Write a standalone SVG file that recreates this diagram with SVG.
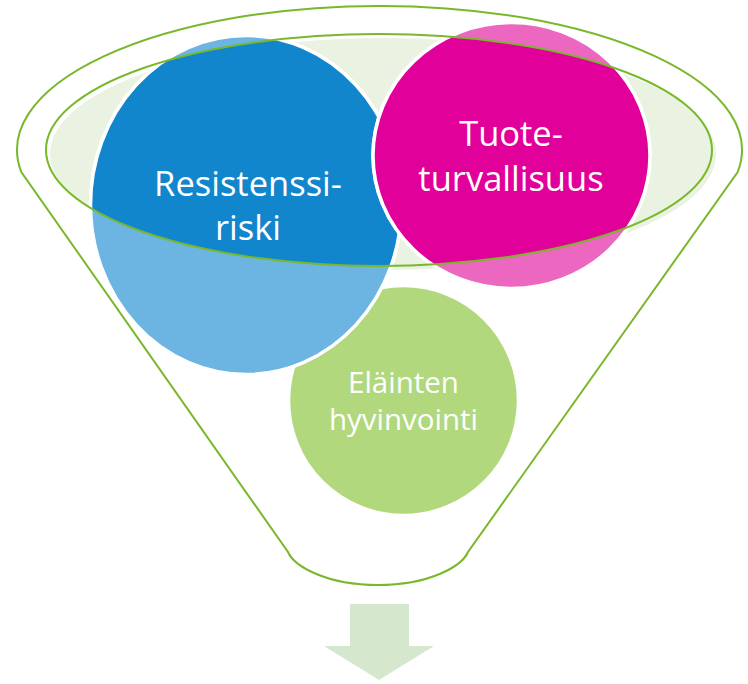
<svg xmlns="http://www.w3.org/2000/svg" width="748" height="684" viewBox="0 0 748 684">
  <defs>
    <clipPath id="rimClip">
      <ellipse cx="379" cy="150" rx="333" ry="116"/>
    </clipPath>
    <style>
      .rim { fill: none; stroke: #78B82A; stroke-width: 2; }
      .circle { stroke: #FFFFFF; stroke-width: 3.5; }
      .label { font-family: "Open Sans", "Noto Sans", "Liberation Sans", sans-serif; fill: #FFFFFF; text-anchor: middle; }
      .big { font-size: 34.5px; }
      .small { font-size: 29.5px; }
    </style>
  </defs>
  <rect x="0" y="0" width="748" height="684" fill="#FFFFFF"/>

  <g id="funnel">
    <path class="rim" d="M 21.3 172 A 362.5 144 0 1 1 737.7 172 L 468 552 C 462 566, 430 585, 378 585 C 326 585, 294 566, 288 552 Z" fill="#FFFFFF"/>
    <ellipse cx="383" cy="154" rx="333" ry="116" fill="#EAF2E2"/>
  </g>

  <g id="node-elainten">
    <circle cx="403.5" cy="400.5" r="115" fill="#B1D87D" class="circle"/>
    <text class="label small" x="403.5" y="393">Eläinten</text>
    <text class="label small" x="403.5" y="430">hyvinvointi</text>
  </g>

  <g id="node-resistenssi">
    <ellipse cx="246" cy="205" rx="155.5" ry="169.5" fill="#6CB4E1" class="circle"/>
    <g clip-path="url(#rimClip)">
      <ellipse cx="246" cy="205" rx="155.5" ry="169.5" fill="#1286CD" class="circle"/>
    </g>
    <text class="label big" x="248" y="196">Resistenssi-</text>
    <text class="label big" x="248" y="240">riski</text>
  </g>

  <g id="node-tuote">
    <ellipse cx="511.5" cy="155.5" rx="138.5" ry="133" fill="#EC67C0" class="circle"/>
    <g clip-path="url(#rimClip)">
      <ellipse cx="511.5" cy="155.5" rx="138.5" ry="133" fill="#E2009A" class="circle"/>
    </g>
    <text class="label big" x="511" y="146">Tuote-</text>
    <text class="label big" x="511" y="191">turvallisuus</text>
  </g>

  <g id="rim-top">
    <ellipse class="rim" cx="379" cy="150" rx="333" ry="116"/>
  </g>

  <g id="connectors">
    <path d="M 350 604 L 409 604 L 409 646 L 434 646 L 379 680 L 324 646 L 350 646 Z" fill="#D5E8CE"/>
  </g>
</svg>
